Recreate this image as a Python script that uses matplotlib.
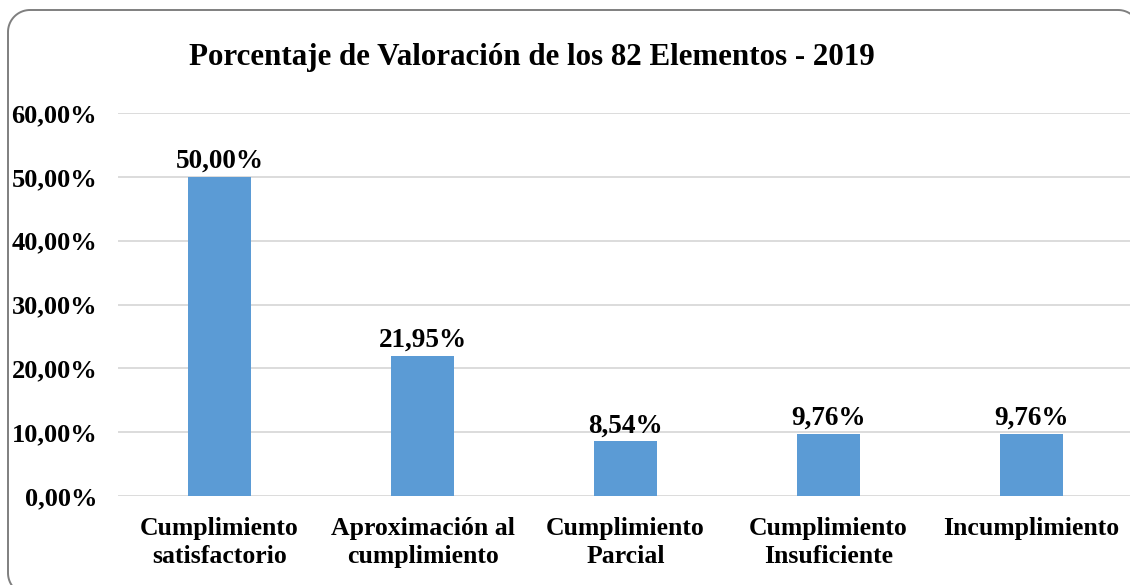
import numpy as np
import matplotlib.pyplot as plt
from matplotlib.lines import Line2D

categorias = ['Cumplimiento\nsatisfactorio', 'Aproximación al\ncumplimiento',
              'Cumplimiento\nParcial', 'Cumplimiento\nInsuficiente', 'Incumplimiento']
porcentajes = [50.00, 21.95, 8.54, 9.76, 9.76]
ticks_y = [0, 10, 20, 30, 40, 50, 60]

plt.rcParams['font.family'] = ['Liberation Serif', 'DejaVu Serif']
plt.rcParams['font.weight'] = 'bold'

W, H = 1130, 585
fig = plt.figure(figsize=(W / 100, H / 100), dpi=100)


def rounded_rect(x0, y0, x1, y1, r, n=20):
    # outline of a rounded rectangle, in inches (y up)
    pts = []
    corners = [(x1 - r, y1 - r, 0), (x0 + r, y1 - r, 90),
               (x0 + r, y0 + r, 180), (x1 - r, y0 + r, 270)]
    for cx, cy, a0 in corners:
        t = np.radians(np.linspace(a0, a0 + 90, n))
        pts.append(np.column_stack([cx + r * np.cos(t), cy + r * np.sin(t)]))
    pts = np.vstack(pts + [pts[0][:1]])
    return pts[:, 0], pts[:, 1]


# chart border, cut off at right and bottom as in the original
bx, by = rounded_rect(0.08, -0.10, 11.40, H / 100 - 0.10, 0.22)
fig.lines.append(Line2D(bx, by, transform=fig.dpi_scale_trans,
                        color='#7f7f7f', linewidth=1.4))

ax = fig.add_axes([118 / W, (H - 496) / H, 1015 / W, 383 / H])
x = np.arange(len(categorias))
ax.bar(x, porcentajes, width=0.31, color='#5b9bd5', zorder=3)

ax.set_xlim(-0.5, len(categorias) - 0.5)
ax.set_ylim(0, 60)
ax.set_yticks(ticks_y)
ax.set_yticklabels([f'{v:.2f}'.replace('.', ',') + '%' for v in ticks_y])
ax.set_xticks(x)
ax.set_xticklabels(categorias, linespacing=1.3)
ax.tick_params(axis='y', length=0, pad=15, labelsize=19)
ax.tick_params(axis='x', length=0, pad=15, labelsize=18.5)
ax.yaxis.grid(True, color='#d9d9d9', linewidth=1.3, zorder=0)
for s in ax.spines.values():
    s.set_visible(False)

for xi, v in zip(x, porcentajes):
    ax.annotate(f'{v:.2f}'.replace('.', ',') + '%', (xi, v), xytext=(0, 2),
                textcoords='offset points', ha='center', va='bottom',
                fontsize=19.5, fontweight='bold')

fig.text(532 / W, 1 - 58 / H, 'Porcentaje de Valoración de los 82 Elementos - 2019',
         ha='center', va='center', fontsize=22.3, fontweight='bold')

fig.savefig('out.png', dpi=100)
